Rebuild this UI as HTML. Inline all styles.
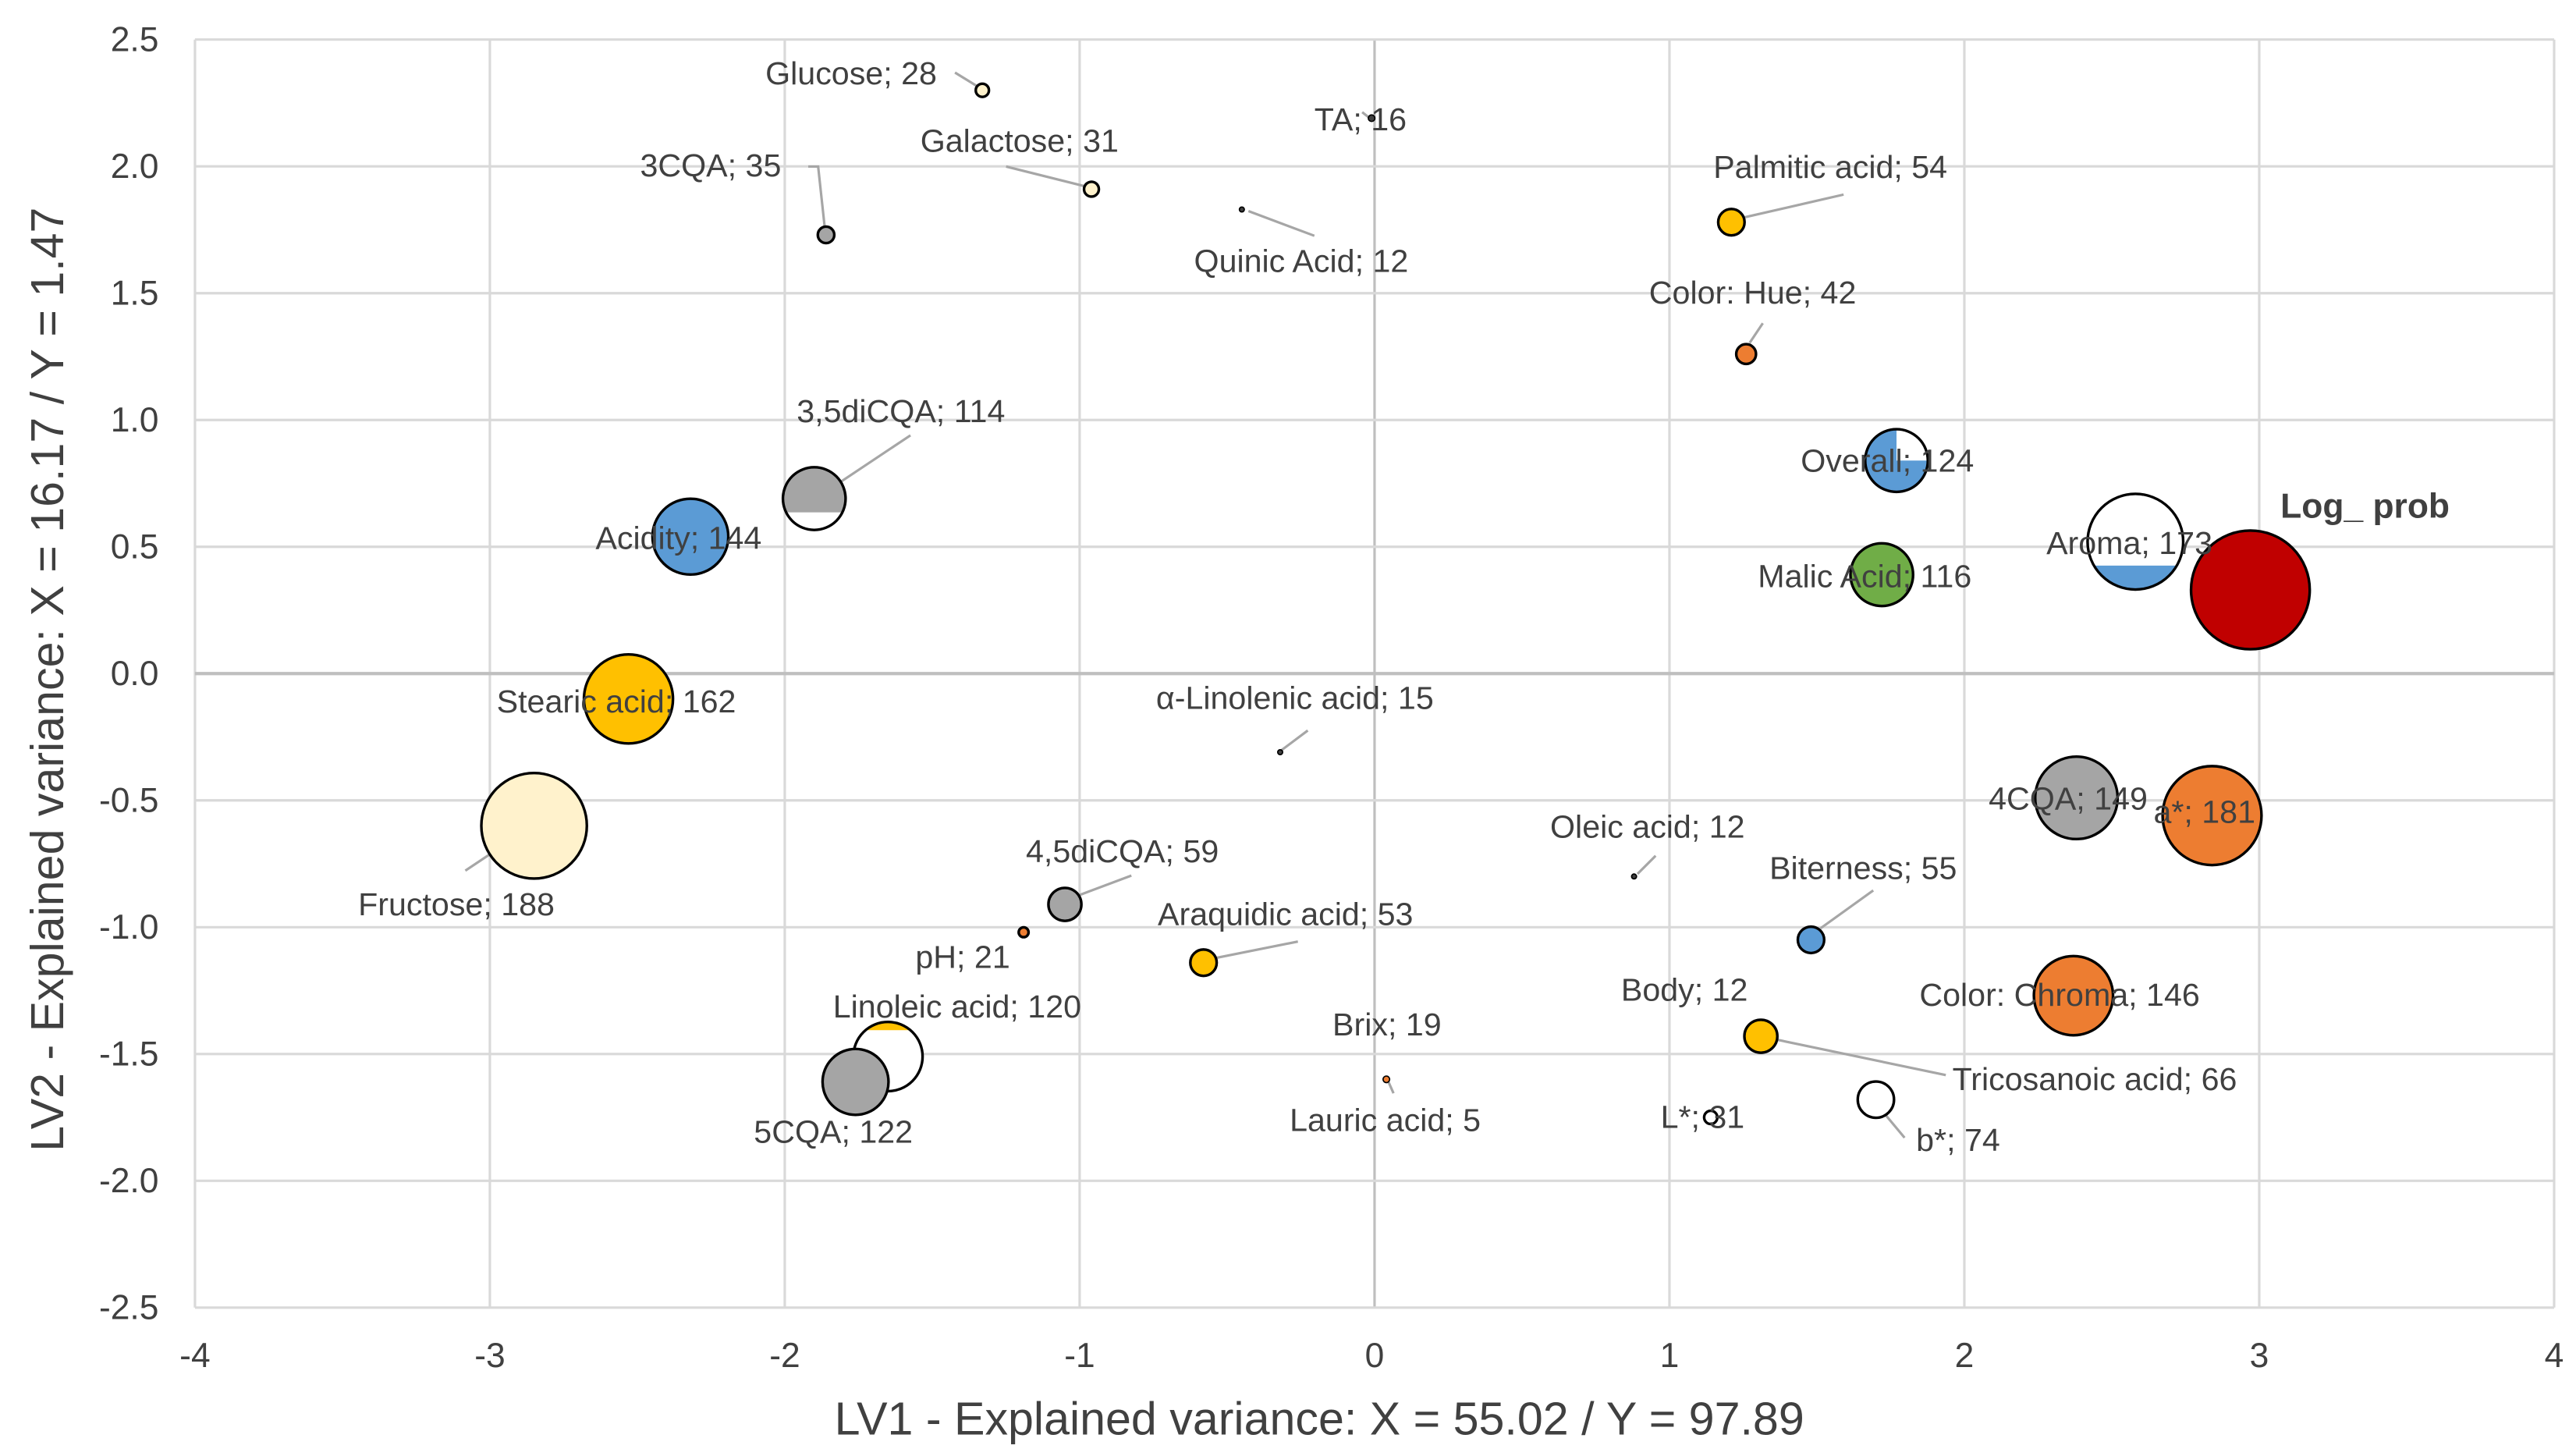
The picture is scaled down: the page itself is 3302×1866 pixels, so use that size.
<!DOCTYPE html>
<html><head><meta charset="utf-8"><style>
html,body{margin:0;padding:0;background:#fff}
svg{display:block}
text{font-family:"Liberation Sans",Arial,sans-serif;fill:#404040}
</style></head><body>
<svg id="chart" width="3302" height="1866" viewBox="0 0 1562 883" xmlns="http://www.w3.org/2000/svg">
<g id="grid"></g>
<g id="leaders" stroke="#a6a6a6" stroke-width="1.5" fill="none">
<polyline points="579,44 592,52"/><polyline points="826,68 831,72"/>
<polyline points="490,101 496,101 500,138"/><polyline points="610,101 658,113"/>
<polyline points="757,128 797,143"/><polyline points="1057,132 1118,118"/>
<polyline points="1061,208 1069,196"/><polyline points="510,292 552,264"/>
<polyline points="777,455 793,443"/><polyline points="993,530 1004,519"/>
<polyline points="1104,563 1136,540"/><polyline points="654,543 686,531"/>
<polyline points="737,581 787,571"/><polyline points="282,528 324,500"/>
<polyline points="1075,630 1180,652"/><polyline points="841,654 845,663"/>
<polyline points="1140,672 1155,690"/>
</g>
<g id="marks"></g>
<g id="labels" font-size="19.5"></g>
<text x="1184" y="661" font-size="19.5">Tricosanoic acid; 66</text>
<text x="782" y="686" font-size="19.5">Lauric acid; 5</text>
<g id="axes"></g>
<text x="800" y="870" font-size="28" text-anchor="middle">LV1 - Explained variance: X =  55.02 /  Y =  97.89</text>
<text transform="translate(38,412) rotate(-90)" font-size="28" text-anchor="middle">LV2 - Explained variance: X =  16.17 /  Y =  1.47</text>
</svg>
<script>
const names=["Glucose","TA","3CQA","Galactose","Quinic Acid","Palmitic acid","Color: Hue","Overall","Aroma","Log_prob","Malic Acid","3,5diCQA","Acidity","Stearic acid","Fructose","α-Linolenic acid","4CQA","a*","Oleic acid","Biterness","4,5diCQA","pH","Araquidic acid","Color: Chroma","Body","Linoleic acid","5CQA","Brix","L*","b*"];
const xVals=[-1.33,-0.01,-1.86,-0.96,-0.45,1.21,1.26,1.77,2.58,2.97,1.72,-1.90,-2.32,-2.53,-2.85,-0.32,2.38,2.84,0.88,1.48,-1.05,-1.19,-0.58,2.37,1.31,-1.65,-1.76,0.04,1.14,1.70];
const yVals=[2.30,2.19,1.73,1.91,1.83,1.78,1.26,0.84,0.52,0.33,0.39,0.69,0.54,-0.10,-0.60,-0.31,-0.49,-0.56,-0.80,-1.05,-0.91,-1.02,-1.14,-1.27,-1.43,-1.51,-1.61,-1.60,-1.75,-1.68];
const radii=[4,2,5,4.5,1.5,8,6,19,29,36,19,19,23,27,32,1.5,25,30,1.5,8,10,3,8,24,10,21,20,2,4,11];
const colors=["#fff2cc","#404040","#a5a5a5","#fff2cc","#404040","#ffc000","#ed7d31","#5b9bd5","#5b9bd5","#c00000","#70ad47","#a5a5a5","#5b9bd5","#ffc000","#fff2cc","#404040","#a5a5a5","#ed7d31","#404040","#5b9bd5","#a5a5a5","#ed7d31","#ffc000","#ed7d31","#ffc000","#ffc000","#a5a5a5","#ed7d31","#ffffff","#ffffff"];
const fillFrac=[1,1,1,1,1,1,1,0.75,0.25,1,1,0.72,1,1,1,1,1,1,1,1,1,1,1,1,1,0.12,1,1,1,1];
const fillFromTop=[0,0,0,0,0,0,0,0,0,0,0,1,0,0,0,0,0,0,0,0,0,0,0,0,0,1,0,0,0,0];
const xTicks=[-4,-3,-2,-1,0,1,2,3,4];
const yTicks=[2.5,2.0,1.5,1.0,0.5,0.0,-0.5,-1.0,-1.5,-2.0,-2.5];
const yTickLabels=["2.5","2.0","1.5","1.0","0.5","0.0","-0.5","-1.0","-1.5","-2.0","-2.5"];
const labelTexts=["Glucose; 28","TA; 16","3CQA; 35","Galactose; 31","Quinic Acid; 12","Palmitic acid; 54","Color: Hue; 42","Overall; 124","Aroma; 173","Log_ prob","Malic Acid; 116","3,5diCQA; 114","Acidity; 144","Stearic acid; 162","Fructose; 188","α-Linolenic acid; 15","4CQA; 149","a*; 181","Oleic acid; 12","Biterness; 55","4,5diCQA; 59","pH; 21","Araquidic acid; 53","Color: Chroma; 146","Body; 12","Linoleic acid; 120","5CQA; 122","Brix; 19","L*; 31","b*; 74"];
const labelPos=[[464,51],[797,79],[388,107],[558,92],[724,165],[1039,108],[1000,184],[1092,286],[1241,336],[1383,314],[1066,356],[483,256],[361,333],[301,432],[217,555],[701,430],[1206,491],[1306,499],[940,508],[1073,533],[622,523],[555,587],[702,561],[1164,610],[983,607],[505,617],[457,693],[808,628],[1007,684],[1162,698]];
const X0=118,X1=1549,Y0=24,Y1=793;
const sx=v=>X0+(v+4)/8*(X1-X0);
const sy=v=>Y1-(v+2.5)/5*(Y1-Y0);
const NS="http://www.w3.org/2000/svg";
function mk(t,a,p){const e=document.createElementNS(NS,t);for(const k in a)e.setAttribute(k,a[k]);p.appendChild(e);return e;}
const grid=document.getElementById('grid'),axes=document.getElementById('axes');
xTicks.forEach(t=>{const l=mk('line',{x1:sx(t),x2:sx(t),y1:Y0,y2:Y1,stroke:t===0?'#bfbfbf':'#d9d9d9','stroke-width':1.5},grid);


const tx=mk('text',{x:sx(t),y:Y1+36,'font-size':21,'text-anchor':'middle'},axes);tx.textContent=t;

});
yTicks.forEach((t,i)=>{const l=mk('line',{x1:X0,x2:X1,y1:sy(t),y2:sy(t),stroke:t===0?'#bfbfbf':'#d9d9d9','stroke-width':t===0?2:1.5},grid);


const tx=mk('text',{x:96,y:sy(t)+7,'font-size':21,'text-anchor':'end'},axes);tx.textContent=yTickLabels[i];

});
const marks=document.getElementById('marks');
const defs=mk('defs',{},marks);
names.forEach((n,i)=>{const cx=sx(xVals[i]),cy=sy(yVals[i]),r=radii[i];
const g=mk('g',{},marks);


if(fillFrac[i]>=1){mk('circle',{cx:cx,cy:cy,r:r,fill:colors[i]},g);}
else{mk('circle',{cx:cx,cy:cy,r:r,fill:'#fff'},g);
const id='c'+i;const cp=mk('clipPath',{id:id},defs);
const h=2*r*fillFrac[i];
if(i===7){mk('rect',{x:cx-r,y:cy-r,width:r,height:2*r},cp);mk('rect',{x:cx-r,y:cy,width:2*r,height:r},cp);}
else mk('rect',{x:cx-r,y:fillFromTop[i]?cy-r:cy+r-h,width:2*r,height:h},cp);
mk('circle',{cx:cx,cy:cy,r:r,fill:colors[i],'clip-path':'url(#'+id+')'},g);}
mk('circle',{cx:cx,cy:cy,r:r,fill:'none',stroke:'#000','stroke-width':r<3?0.8:1.6},g);});
const labels=document.getElementById('labels');
labelTexts.forEach((s,i)=>{const t=mk('text',{x:labelPos[i][0],y:labelPos[i][1]},labels);t.textContent=s;
if(i===9){t.setAttribute('font-weight','bold');t.setAttribute('font-size','21');}

});
</script>
</body></html>
